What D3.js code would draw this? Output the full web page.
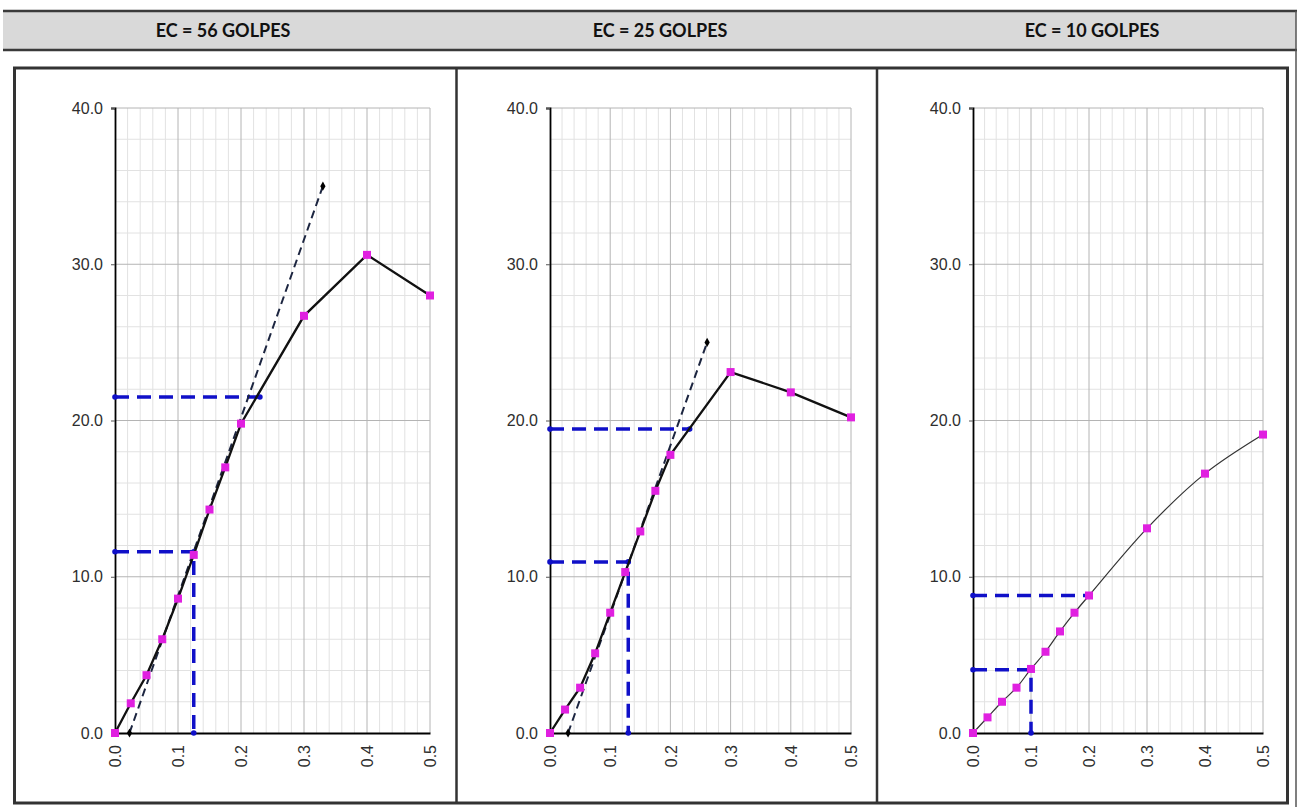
<!DOCTYPE html>
<html lang="es">
<head>
<meta charset="UTF-8">
<title>Compresión no confinada - EC golpes</title>
<script src="https://cdnjs.cloudflare.com/ajax/libs/d3/7.8.5/d3.min.js"></script>
<style>
  body { margin: 0; background: #fff; }
  svg { display: block; font-family: "Liberation Sans", Arial, sans-serif; }
  .title { font-family: Lato, "Open Sans", sans-serif; font-weight: bold; font-size: 18px; fill: #111; }
  .tick text { font-size: 16px; fill: #2e2e2e; }
  .grid-minor { stroke: #e2e2e2; stroke-width: 1; }
  .grid-major { stroke: #b4b4b4; stroke-width: 1; }
</style>
</head>
<body>
<svg id="chart" width="1303" height="807"></svg>
<script>
// ---- data ----
const titles = ["EC = 56 GOLPES", "EC = 25 GOLPES", "EC = 10 GOLPES"];
const strain = [0, 0.025, 0.05, 0.075, 0.1, 0.125, 0.15, 0.175, 0.2, 0.3, 0.4, 0.5];
const stress56 = [0, 1.9, 3.7, 6.0, 8.6, 11.4, 14.3, 17.0, 19.8, 26.7, 30.6, 28.0];
const stress25 = [0, 1.5, 2.9, 5.1, 7.7, 10.3, 12.9, 15.5, 17.8, 23.1, 21.8, 20.2];
const stress10 = [0, 1.0, 2.0, 2.9, 4.1, 5.2, 6.5, 7.7, 8.8, 13.1, 16.6, 19.1];

// tangent (initial modulus) lines
const tangent56X = [0.023, 0.33], tangent56Y = [0, 35];
const tangent25X = [0.03, 0.261], tangent25Y = [0, 25];

// blue guide lines
const guide56TopX = [0, 0.23],  guide56TopY = [21.5, 21.5];
const guide56LowX = [0, 0.125, 0.125], guide56LowY = [11.6, 11.6, 0];
const guide25TopX = [0, 0.232], guide25TopY = [19.45, 19.45];
const guide25LowX = [0, 0.13, 0.13], guide25LowY = [10.95, 10.95, 0];
const guide10TopX = [0, 0.2],  guide10TopY = [8.8, 8.8];
const guide10LowX = [0, 0.1, 0.1], guide10LowY = [4.05, 4.05, 0];

const xTicks = [0, 0.1, 0.2, 0.3, 0.4, 0.5];
const yTicks = [0, 10, 20, 30, 40];

const zip = (xs, ys) => xs.map((x, i) => [x, ys[i]]);

const panels = [
  { title: titles[0], cx: 223, left: 115, right: 430, y: stress56, smooth: false,
    tangent: zip(tangent56X, tangent56Y),
    guides: [zip(guide56TopX, guide56TopY), zip(guide56LowX, guide56LowY)] },
  { title: titles[1], cx: 660, left: 550, right: 851, y: stress25, smooth: false,
    tangent: zip(tangent25X, tangent25Y),
    guides: [zip(guide25TopX, guide25TopY), zip(guide25LowX, guide25LowY)] },
  { title: titles[2], cx: 1092, left: 973, right: 1263, y: stress10, smooth: true,
    tangent: null,
    guides: [zip(guide10TopX, guide10TopY), zip(guide10LowX, guide10LowY)] }
];

const svg = d3.select("#chart");
const plotTop = 108, plotBottom = 733;

// ---- table frame ----
svg.append("rect").attr("x", 3).attr("y", 11).attr("width", 1293).attr("height", 39)
  .attr("fill", "#d9d9d9");
svg.append("line").attr("x1", 3).attr("x2", 1297).attr("y1", 11).attr("y2", 11)
  .attr("stroke", "#3a3a3a").attr("stroke-width", 2.5);
svg.append("line").attr("x1", 3).attr("x2", 1297).attr("y1", 50).attr("y2", 50)
  .attr("stroke", "#3a3a3a").attr("stroke-width", 2.5);
svg.append("line").attr("x1", 1296).attr("x2", 1296).attr("y1", 11).attr("y2", 807)
  .attr("stroke", "#555").attr("stroke-width", 1.5);
svg.append("rect").attr("x", 14.5).attr("y", 68).attr("width", 1273).attr("height", 735)
  .attr("fill", "none").attr("stroke", "#333").attr("stroke-width", 3);
[456.5, 877].forEach(x => svg.append("line").attr("x1", x).attr("x2", x)
  .attr("y1", 68).attr("y2", 803).attr("stroke", "#333").attr("stroke-width", 2.5));

panels.forEach(p => {
  svg.append("text").attr("class", "title").attr("x", p.cx).attr("y", 37)
    .attr("text-anchor", "middle").text(p.title);

  const x = d3.scaleLinear().domain([0, 0.5]).range([p.left, p.right]);
  const y = d3.scaleLinear().domain([0, 40]).range([plotBottom, plotTop]);
  const g = svg.append("g");

  // grid
  const minorX = d3.range(0, 0.5001, 0.02).filter(v => Math.abs(v * 10 - Math.round(v * 10)) > 1e-6);
  const minorY = d3.range(0, 40.001, 2).filter(v => v % 10 !== 0);
  g.selectAll(".mx").data(minorX).join("line").attr("class", "grid-minor")
    .attr("x1", d => x(d)).attr("x2", d => x(d)).attr("y1", plotTop).attr("y2", plotBottom);
  g.selectAll(".my").data(minorY).join("line").attr("class", "grid-minor")
    .attr("x1", p.left).attr("x2", p.right).attr("y1", d => y(d)).attr("y2", d => y(d));
  g.selectAll(".Mx").data(xTicks.slice(1)).join("line").attr("class", "grid-major")
    .attr("x1", d => x(d)).attr("x2", d => x(d)).attr("y1", plotTop).attr("y2", plotBottom);
  g.selectAll(".My").data(yTicks.slice(1)).join("line").attr("class", "grid-major")
    .attr("x1", p.left).attr("x2", p.right).attr("y1", d => y(d)).attr("y2", d => y(d));

  // axes
  const yAxis = g.append("g").attr("transform", `translate(${p.left},0)`)
    .call(d3.axisLeft(y).tickValues(yTicks).tickFormat(d3.format(".1f")).tickSize(4).tickPadding(8));
  const xAxis = g.append("g").attr("transform", `translate(0,${plotBottom})`)
    .call(d3.axisBottom(x).tickValues(xTicks).tickFormat(d3.format(".1f")).tickSize(0));
  [yAxis, xAxis].forEach(a => {
    a.attr("font-family", null).attr("font-size", null);
    a.select(".domain").attr("stroke", "#000").attr("stroke-width", 1.8);
    a.selectAll(".tick line").attr("stroke", "#555");
  });
  xAxis.selectAll(".tick text")
    .attr("transform", "rotate(-90)")
    .attr("x", -12).attr("y", 0).attr("dy", "0.36em")
    .attr("text-anchor", "end");

  // blue guide lines
  p.guides.forEach(gd => {
    g.append("path").datum(gd)
      .attr("d", d3.line().x(d => x(d[0])).y(d => y(d[1])))
      .attr("fill", "none").attr("stroke", "#1010c8").attr("stroke-width", 3.5)
      .attr("stroke-dasharray", "14,8");
    g.selectAll(null).data(gd).join("circle")
      .attr("cx", d => x(d[0])).attr("cy", d => y(d[1])).attr("r", 2.8)
      .attr("fill", "#1010c8");
  });

  // tangent line
  if (p.tangent) {
    g.append("path").datum(p.tangent)
      .attr("d", d3.line().x(d => x(d[0])).y(d => y(d[1])))
      .attr("fill", "none").attr("stroke", "#1c2540").attr("stroke-width", 2)
      .attr("stroke-dasharray", "8,5");
    g.selectAll(null).data(p.tangent).join("path")
      .attr("transform", d => `translate(${x(d[0])},${y(d[1])})`)
      .attr("d", d3.symbol(d3.symbolDiamond, 24))
      .attr("fill", "#000");
  }

  // main curve
  const pts = zip(strain, p.y);
  g.append("path").datum(pts)
    .attr("d", d3.line().x(d => x(d[0])).y(d => y(d[1]))
      .curve(p.smooth ? d3.curveCatmullRom.alpha(0.5) : d3.curveLinear))
    .attr("fill", "none").attr("stroke", p.smooth ? "#333" : "#111")
    .attr("stroke-width", p.smooth ? 1.2 : 2.3);
  g.selectAll(null).data(pts).join("rect")
    .attr("x", d => x(d[0]) - 4).attr("y", d => y(d[1]) - 4)
    .attr("width", 8).attr("height", 8)
    .attr("fill", "#e020e0");
});
</script>
</body>
</html>
